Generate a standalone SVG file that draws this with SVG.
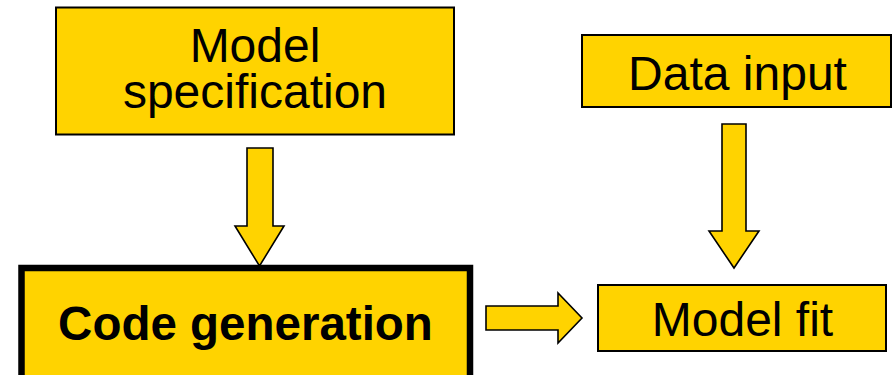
<svg xmlns="http://www.w3.org/2000/svg" width="892" height="375" viewBox="0 0 892 375">
  <style>
    .box { fill: #FFD300; stroke: #000; stroke-width: 2; }
    .box-main { fill: #FFD300; stroke: #000; stroke-width: 6.5; }
    .arrow { fill: #FFD300; stroke: #000; stroke-width: 1.6; stroke-linejoin: miter; }
    .label { font-family: "Liberation Sans", Arial, sans-serif; font-size: 48px; fill: #000; text-anchor: middle; }
    .bold { font-weight: bold; font-size: 47.5px; }
  </style>
  <rect width="892" height="375" fill="#fff"/>

  <g id="model-specification">
    <rect class="box" x="56" y="7.5" width="398" height="127"/>
    <text class="label" x="255" y="62">Model<tspan x="255" dy="46">specification</tspan></text>
  </g>

  <g id="data-input">
    <rect class="box" x="582" y="35" width="309" height="72"/>
    <text class="label" x="737.5" y="90">Data input</text>
  </g>

  <g id="code-generation">
    <rect class="box-main" x="21.5" y="268" width="448.5" height="120"/>
    <text class="label bold" x="245.5" y="340">Code generation</text>
  </g>

  <g id="model-fit">
    <rect class="box" x="598" y="285" width="288" height="66"/>
    <text class="label" x="742.5" y="336">Model fit</text>
  </g>

  <g id="connectors">
    <!-- Model specification -> Code generation -->
    <polygon class="arrow" points="247,148 273,148 273,226 284,226 259.5,266 235,226 247,226"/>
    <!-- Data input -> Model fit -->
    <polygon class="arrow" points="722,124 746,124 746,231 759,231 734,268 709,231 722,231"/>
    <!-- Code generation -> Model fit -->
    <polygon class="arrow" points="486,306 558,306 558,293 582,318 558,343 558,330 486,330"/>
  </g>
</svg>
